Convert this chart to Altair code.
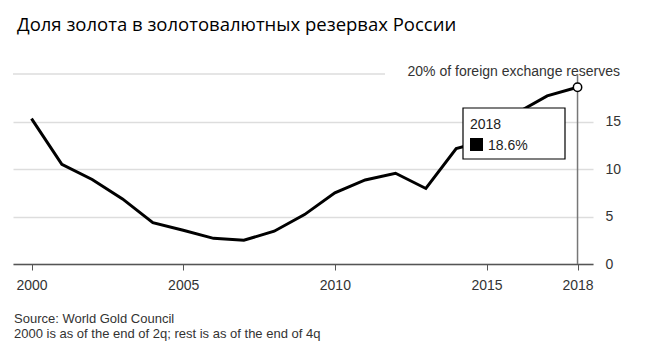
import altair as alt
import pandas as pd

years = list(range(2000, 2019))
gold_share = [15.3, 10.5, 8.9, 6.85, 4.35, 3.55, 2.7, 2.5, 3.45, 5.2, 7.5,
              8.85, 9.55, 7.95, 12.15, 13.0, 15.9, 17.7, 18.6]
x_ticks = [2000, 2005, 2010, 2015, 2018]
y_ticks = [0, 5, 10, 15]
title_text = "Доля золота в золотовалютных резервах России"
ref_label = "20% of foreign exchange reserves"
notes = ["Source: World Gold Council",
         "2000 is as of the end of 2q; rest is as of the end of 4q"]

df = pd.DataFrame({"year": years, "share": gold_share})
last = df.iloc[[-1]].copy()
last["year_label"] = last["year"].astype(str)
last["share_label"] = last["share"].map(lambda v: f"{v:.1f}%")

FONT = "Liberation Sans"
W, H = 580, 190

xs = alt.Scale(domain=[1999.39, 2018.51], nice=False, zero=False)
ys = alt.Scale(domain=[0, 20], nice=False)

x_axis = alt.Axis(values=x_ticks, format="d", title=None, grid=False,
                  domainColor="#555", domainWidth=1.5, tickColor="#555",
                  tickSize=6, tickWidth=1, labelPadding=8, labelFontSize=14,
                  labelColor="#333", labelFont=FONT)
y_axis = alt.Axis(values=y_ticks, orient="right", title=None, grid=True,
                  gridColor="#ddd", gridWidth=1.5, domain=False, ticks=False,
                  labelPadding=12, labelFontSize=14, labelColor="#333",
                  labelFont=FONT)


def X(field="year:Q"):
    return alt.X(field, scale=xs, axis=x_axis)


def Y(field="share:Q"):
    return alt.Y(field, scale=ys, axis=y_axis)


line = alt.Chart(df).mark_line(color="black", strokeWidth=3).encode(x=X(), y=Y())

ref_df = pd.DataFrame({"share": [20], "label": [ref_label]})
ref_rule = alt.Chart(ref_df).mark_rule(color="#ddd", strokeWidth=1.5).encode(
    y=Y(), x=alt.value(0), x2=alt.value(372))
ref_text = alt.Chart(ref_df).mark_text(
    align="right", baseline="middle", fontSize=14, font=FONT, color="#333", dy=-2
).encode(y=Y(), x=alt.value(607), text="label:N")

vrule_df = pd.DataFrame({"year": [2018], "share": [20], "bottom": [0]})
vrule = alt.Chart(vrule_df).mark_rule(color="#777", strokeWidth=1.5).encode(
    x=X(), y=Y(), y2="bottom:Q")

end_point = alt.Chart(last).mark_point(
    shape="circle", filled=True, fill="white", stroke="black", strokeWidth=1.5,
    size=70, opacity=1).encode(x=X(), y=Y())

box = alt.Chart(last).mark_rect(fill="white", stroke="black", strokeWidth=1.2).encode(
    x=alt.value(450), x2=alt.value(552), y=alt.value(34), y2=alt.value(85))
box_year = alt.Chart(last).mark_text(
    align="left", baseline="alphabetic", fontSize=14, font=FONT, color="#222"
).encode(x=alt.value(457), y=alt.value(55), text="year_label:N")
box_sq = alt.Chart(last).mark_rect(fill="black").encode(
    x=alt.value(457), x2=alt.value(470), y=alt.value(64), y2=alt.value(77))
box_val = alt.Chart(last).mark_text(
    align="left", baseline="alphabetic", fontSize=14, font=FONT, color="#222"
).encode(x=alt.value(475), y=alt.value(76), text="share_label:N")

title_df = pd.DataFrame({"text": [title_text]})
title_layer = alt.Chart(title_df).mark_text(
    align="left", baseline="alphabetic", fontSize=18.5, font="Open Sans", color="#000"
).encode(x=alt.value(4), y=alt.value(-43), text="text:N")

note_layers = []
for i, t in enumerate(notes):
    ndf = pd.DataFrame({"text": [t]})
    note_layers.append(alt.Chart(ndf).mark_text(
        align="left", baseline="alphabetic", fontSize=13, font=FONT, color="#333"
    ).encode(x=alt.value(1), y=alt.value(249 + 15 * i), text="text:N"))

chart = alt.layer(
    ref_rule, ref_text, vrule, line, end_point, box, box_year, box_sq, box_val,
    title_layer, *note_layers
).properties(
    width=W, height=H,
    autosize=alt.AutoSizeParams(type="none"),
    padding={"left": 5, "top": 66, "right": 51, "bottom": 86},
).configure(
    background="white",
    view=alt.ViewConfig(stroke="transparent", strokeWidth=0),
)

chart.save("out.html", embed_options={"renderer": "svg", "actions": False})
